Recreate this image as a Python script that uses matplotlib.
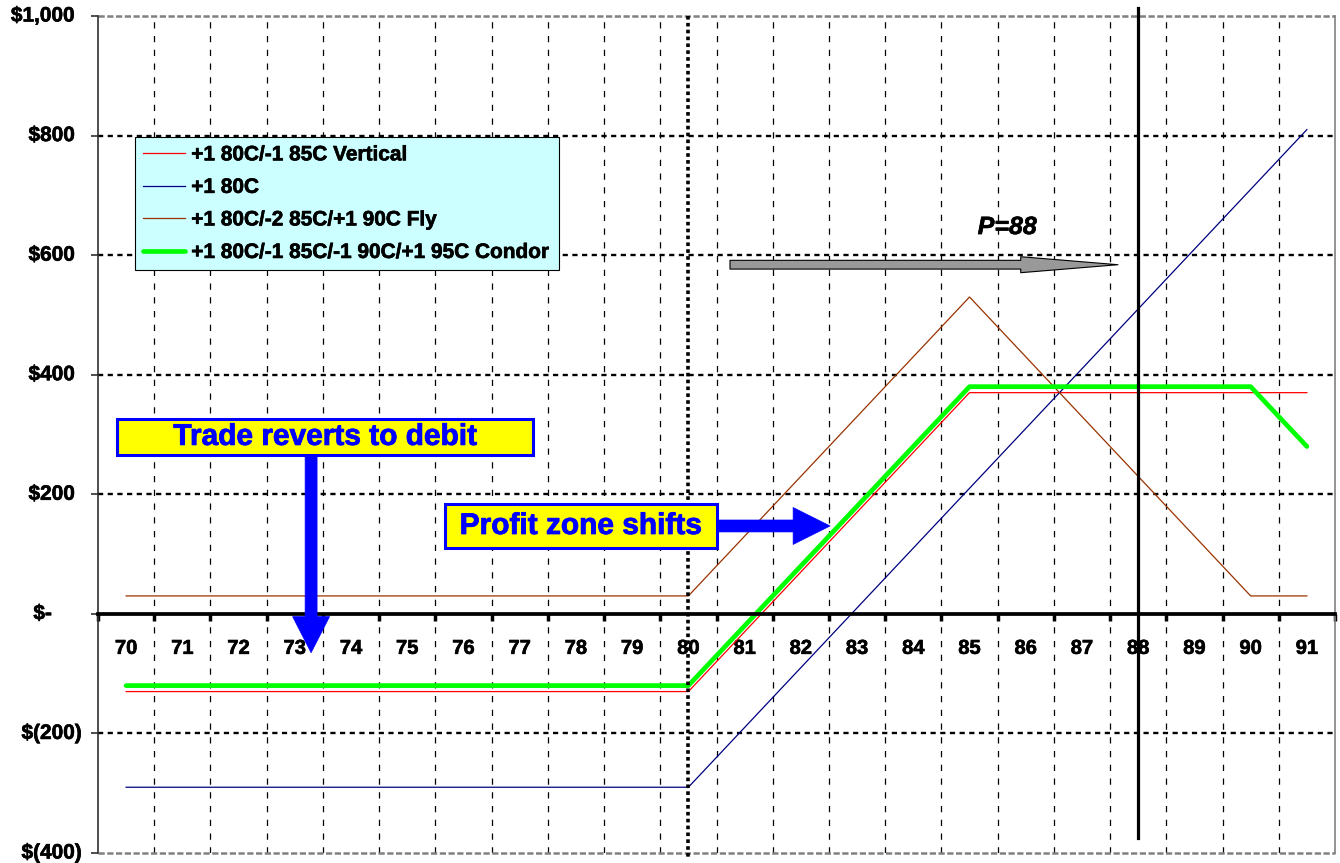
import matplotlib
matplotlib.use("Agg")
import matplotlib.pyplot as plt
import matplotlib.transforms as mtransforms
import matplotlib.patheffects as pe
from matplotlib.patches import FancyArrowPatch, Rectangle

plt.rcParams['font.family'] = ['Liberation Sans', 'DejaVu Sans']
plt.rcParams['font.weight'] = 'bold'

# Underlying price at expiration
strikes = [70, 71, 72, 73, 74, 75, 76, 77, 78, 79, 80,
           81, 82, 83, 84, 85, 86, 87, 88, 89, 90, 91]

# P&L of each position ($)
vertical = [-130, -130, -130, -130, -130, -130, -130, -130, -130, -130, -130,
            -30, 70, 170, 270, 370, 370, 370, 370, 370, 370, 370]
long_call = [-290, -290, -290, -290, -290, -290, -290, -290, -290, -290, -290,
             -190, -90, 10, 110, 210, 310, 410, 510, 610, 710, 810]
fly = [30, 30, 30, 30, 30, 30, 30, 30, 30, 30, 30,
       130, 230, 330, 430, 530, 430, 330, 230, 130, 30, 30]
condor = [-120, -120, -120, -120, -120, -120, -120, -120, -120, -120, -120,
          -20, 80, 180, 280, 380, 380, 380, 380, 380, 380, 280]

series_labels = ["+1 80C/-1 85C Vertical", "+1 80C",
                 "+1 80C/-2 85C/+1 90C Fly", "+1 80C/-1 85C/-1 90C/+1 95C Condor"]

y_ticks = [-400, -200, 0, 200, 400, 600, 800, 1000]
y_tick_labels = ["$(400)", "$(200)", "$-", "$200", "$400", "$600", "$800", "$1,000"]

entry_strike = 80
current_price = 88

W, H = 1340, 863
fig = plt.figure(figsize=(W / 100, H / 100), dpi=100)
ax = fig.add_axes([98 / W, 10 / H, 1237 / W, 837 / H])


def heavy(color='black', w=0.45):
    """Slightly thicken glyph strokes."""
    return [pe.withStroke(linewidth=w, foreground=color)]


x = list(range(len(strikes)))
ax.set_xlim(-0.5, len(strikes) - 0.5)
ax.set_ylim(-400, 1000)

# grid
for k in range(1, len(strikes)):
    ax.axvline(k - 0.5, color='black', lw=0.9, dashes=(5, 6), zorder=1)
for v in [-200, 200, 400, 600, 800]:
    ax.axhline(v, color='black', lw=1.7, dashes=(2.2, 1.9), zorder=1)
for v in [-400, 1000]:
    ax.axhline(v, color='#808080', lw=1.8, dashes=(2.5, 1.0), zorder=1, clip_on=False)

# spines
ax.spines['top'].set_visible(False)
ax.spines['left'].set_color('#303030')
ax.spines['left'].set_linewidth(1.2)
ax.spines['right'].set_color('#808080')
ax.spines['right'].set_linewidth(1.2)
ax.spines['bottom'].set_position(('data', 0))
ax.spines['bottom'].set_linewidth(2.7)
ax.spines['bottom'].set_zorder(4)

# x ticks: marks on category boundaries, labels at category centres
ax.set_xticks([k - 0.5 for k in range(len(strikes) + 1)])
ax.set_xticklabels([])
ax.set_xticks(x, minor=True)
ax.set_xticklabels([str(s) for s in strikes], minor=True)
ax.tick_params(axis='x', which='major', direction='out', length=5, width=2.5)
ax.tick_params(axis='x', which='minor', length=0, pad=18, labelsize=14.5)
for t in ax.get_xticklabels(minor=True):
    t.set_path_effects(heavy())

# y ticks
ax.set_yticks(y_ticks)
ax.set_yticklabels([])
ax.tick_params(axis='y', direction='out', length=5, width=1.2, color='#303030')
blend = mtransforms.blended_transform_factory(ax.transAxes, ax.transData)
for v, lab in zip(y_ticks, y_tick_labels):
    if lab == "$-":
        dx = -46
    elif lab.startswith("$("):
        dx = -16
    else:
        dx = -23
    tr = blend + mtransforms.ScaledTranslation(dx / 100, 0, fig.dpi_scale_trans)
    ax.text(0, v, lab, transform=tr, ha='right', va='center', fontsize=15,
            fontweight='bold', clip_on=False, path_effects=heavy())

# series
l1, = ax.plot(x, vertical, color='#FF0000', lw=0.9, zorder=3)
l2, = ax.plot(x, long_call, color='#000080', lw=0.9, zorder=3)
l3, = ax.plot(x, fly, color='#993300', lw=0.9, zorder=3)
l4, = ax.plot(x, condor, color='#00FF00', lw=3.4, zorder=3,
              solid_capstyle='round', solid_joinstyle='round')

# entry strike and current price markers
xe = strikes.index(entry_strike)
ax.plot([xe, xe], [1000, -408], color='black', lw=2.6, dashes=(1.0, 0.9),
        clip_on=False, zorder=5)
xp = strikes.index(current_price)
ax.plot([xp, xp], [1013, -375], color='black', lw=2.3, clip_on=False, zorder=6)
ax.text(15.67, 647, "P=88", fontsize=18, fontweight='bold', fontstyle='italic',
        ha='center', va='center', zorder=7, path_effects=heavy())

# gray move arrow
ax.add_patch(FancyArrowPatch((10.74, 584), (17.64, 584),
             arrowstyle='simple,head_length=70,head_width=11.5,tail_width=6.3',
             mutation_scale=1, shrinkA=0, shrinkB=0, fc='#999999', ec='black',
             lw=0.8, zorder=6))

# callout: debit
ax.add_patch(FancyArrowPatch((3.29, 266), (3.29, -65),
             arrowstyle='simple,head_length=26,head_width=26.6,tail_width=8.6',
             mutation_scale=1, shrinkA=0, shrinkB=0, fc='#0000FF', ec='#0000FF',
             lw=0.5, zorder=7))
ax.add_patch(Rectangle((-0.16, 266), 7.40, 60, fc='#FFFF00', ec='#0000FF', lw=2.2, zorder=8))
ax.text(3.54, 296, "Trade reverts to debit", color='#0000FF', fontsize=21.5,
        fontweight='bold', ha='center', va='center', zorder=9,
        path_effects=heavy('#0000FF', 0.6))

# callout: profit zone
ax.add_patch(FancyArrowPatch((10.4, 147), (12.52, 147),
             arrowstyle='simple,head_length=26.6,head_width=26.6,tail_width=8.6',
             mutation_scale=1, shrinkA=0, shrinkB=0, fc='#0000FF', ec='#0000FF',
             lw=0.5, zorder=7))
ax.add_patch(Rectangle((5.67, 110), 4.84, 74, fc='#FFFF00', ec='#0000FF', lw=2.2, zorder=8))
ax.text(8.09, 147, "Profit zone shifts", color='#0000FF', fontsize=21.5,
        fontweight='bold', ha='center', va='center', zorder=9,
        path_effects=heavy('#0000FF', 0.6))

leg = ax.legend([l1, l2, l3, l4], series_labels, loc='upper left',
                bbox_to_anchor=(135 / W, 1 - 137 / H), bbox_transform=fig.transFigure,
                borderaxespad=0, borderpad=0.4, handlelength=2.0, handletextpad=0.3,
                labelspacing=0.65, prop={'size': 15, 'weight': 'bold'},
                fancybox=False, framealpha=1, facecolor='#CCFFFF', edgecolor='black')
leg.get_frame().set_linewidth(0.8)
leg.set_zorder(10)
for t in leg.get_texts():
    t.set_path_effects(heavy())

fig.savefig("out.png", dpi=100)
